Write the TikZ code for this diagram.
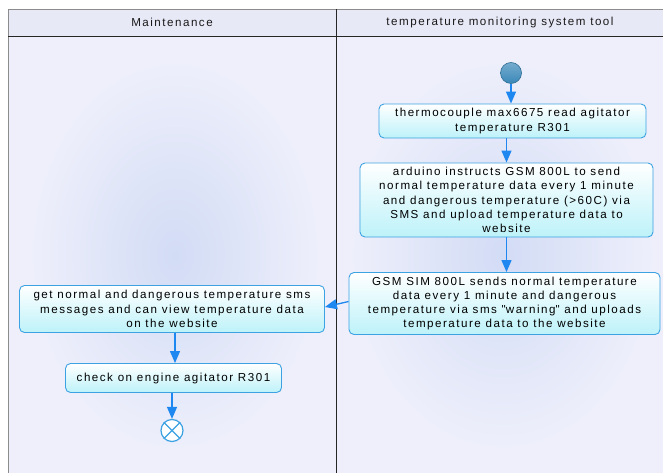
\documentclass[tikz,border=0pt]{standalone}
\usepackage{fontspec}
\setmainfont{Liberation Sans}[LetterSpace=13]
\usetikzlibrary{arrows.meta}
\definecolor{lanebg}{HTML}{EEEFFB}
\definecolor{headbg}{HTML}{E8E9F7}
\definecolor{glow}{HTML}{D2DCF5}
\definecolor{boxline}{HTML}{3CA2E2}
\definecolor{boxfill}{HTML}{BDF2F9}
\definecolor{arrowc}{HTML}{1E88F0}
\definecolor{startc}{HTML}{3A88B8}
\tikzset{
  act/.style={draw=boxline, line width=0.9pt, rounded corners=5pt,
    top color=white, bottom color=boxfill, align=center, inner sep=0pt,
    font=\fontsize{11.6}{14.2}\selectfont, text=black},
  flow/.style={draw=arrowc, line width=1.3pt, -{Triangle[width=10pt,length=12pt]}},
  lane/.style={font=\fontsize{11.6}{13}\selectfont, text=black!90},
}
\begin{document}
\begin{tikzpicture}[x=1pt,y=-1pt]
\useasboundingbox (0,0) rectangle (663,473);
\fill[white] (0,0) rectangle (663,473);
% lane backgrounds
\fill[lanebg] (8,37) rectangle (663,473);
\shade[inner color=glow, outer color=lanebg] (30,60) rectangle (320,450);
\shade[inner color=glow, outer color=lanebg] (350,60) rectangle (655,450);
\fill[headbg] (8,9) rectangle (663,37);
% frame lines
\draw[black!45, line width=0.8pt] (663,9) -- (8,9) -- (8,473);
\draw[black!85, line width=1pt] (8,37) -- (663,37);
\draw[black!85, line width=1pt] (336,9) -- (336,473);
% lane titles
\node[lane] (lm) at (172,22.5) {Maintenance};
\node[lane] (lt) at (500,22.5) {temperature monitoring system tool};
% nodes
\node[circle, draw=startc!80!black, line width=0.6pt, top color=startc!70!white, bottom color=startc, minimum size=21pt, inner sep=0pt] (start) at (511,73) {};
\node[act, minimum width=267pt, minimum height=34pt] (a) at (512.5,121) {thermocouple max6675 read agitator\\temperature R301};
\node[act, minimum width=293pt, minimum height=74pt] (b) at (506.5,200) {arduino instructs GSM 800L to send\\normal temperature data every 1 minute\\and dangerous temperature (>60C) via\\SMS and upload temperature data to\\website};
\node[act, minimum width=311pt, minimum height=62pt] (c) at (504.5,303.5) {GSM SIM 800L sends normal temperature\\data every 1 minute and dangerous\\temperature via sms \textquotedbl warning\textquotedbl{} and uploads\\temperature data to the website};
\node[act, minimum width=305pt, minimum height=47pt] (d) at (172,309) {get normal and dangerous temperature sms\\messages and can view temperature data\\on the website};
\node[act, minimum width=216pt, minimum height=29pt] (e) at (173.5,378) {check on engine agitator R301};
\node[circle, draw=boxline, line width=1.2pt, fill=white, minimum size=22pt, inner sep=0pt] (end) at (172,430.5) {};
\draw[boxline, line width=1.2pt] (end.45) -- (end.225) (end.135) -- (end.315);
% connectors
\draw[flow] (start) -- (start |- a.north);
\draw[flow] (b.north |- a.south) -- (b.north);
\draw[flow] (b.south) -- (b.south |- c.north);
\draw[flow] ([yshift=2pt]c.west) -- ([yshift=2pt]d.east);
\draw[flow] (d.south -| 175,0) -- (e.north -| 175,0);
\draw[flow] (e.south -| end) -- (end);
\end{tikzpicture}
\end{document}
